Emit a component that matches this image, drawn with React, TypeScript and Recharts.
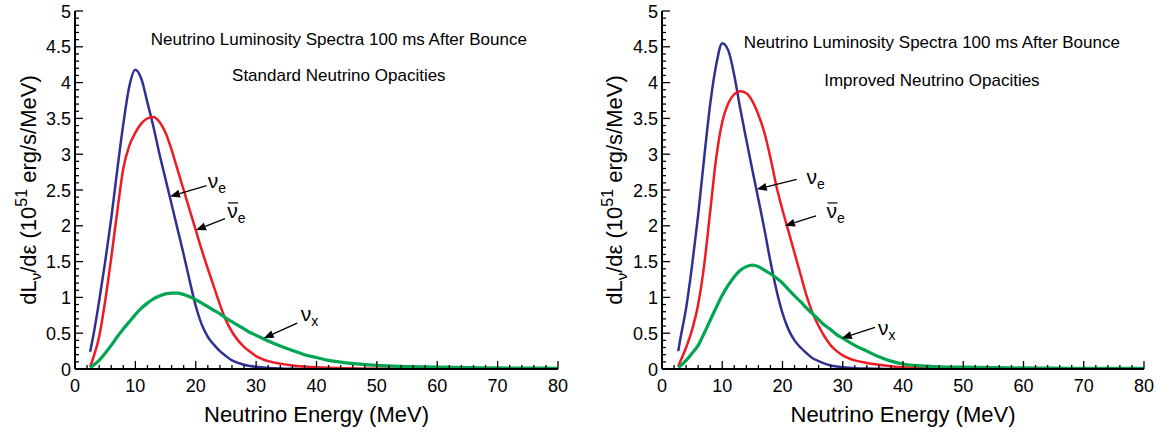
import { LineChart, Line, XAxis, YAxis, ReferenceLine, ReferenceDot, Label } from 'recharts'

const FONT = '"Liberation Sans", Arial, Helvetica, sans-serif'
const BLUE = '#2e3192'
const RED = '#ed1c24'
const GREEN = '#00a651'

// axis ticks
const xMajor = [0, 10, 20, 30, 40, 50, 60, 70, 80]
const xMinorStep = 2
const yMajor = [0, 0.5, 1, 1.5, 2, 2.5, 3, 3.5, 4, 4.5, 5]
const yMinorStep = 0.1

// left panel: standard opacities
const energyStd = [2.5, 3, 4, 5, 6, 7, 8, 9, 10, 11, 12, 13, 14, 15, 16, 17, 18, 19, 20, 21, 22, 23, 24, 25, 26, 27, 28, 29, 30, 32, 34, 36, 38, 40, 42, 45, 50, 55, 60, 65, 70, 75, 80]
const nueStd = [0.24, 0.45, 0.95, 1.5, 2.1, 2.78, 3.42, 3.95, 4.18, 4.05, 3.72, 3.38, 3.0, 2.65, 2.3, 1.95, 1.6, 1.23, 0.88, 0.62, 0.45, 0.34, 0.25, 0.18, 0.12, 0.085, 0.06, 0.042, 0.03, 0.015, 0.007, 0.003, 0.001, 0, 0, 0, 0, 0, 0, 0, 0, 0, 0]
const nuebarStd = [0.03, 0.15, 0.45, 0.95, 1.55, 2.2, 2.8, 3.12, 3.3, 3.43, 3.5, 3.52, 3.45, 3.3, 3.06, 2.78, 2.5, 2.22, 1.94, 1.66, 1.4, 1.15, 0.9, 0.68, 0.52, 0.4, 0.31, 0.24, 0.18, 0.11, 0.075, 0.05, 0.035, 0.024, 0.016, 0.009, 0.004, 0.001, 0, 0, 0, 0, 0]
const nuxStd = [0.02, 0.05, 0.12, 0.22, 0.33, 0.45, 0.56, 0.66, 0.76, 0.85, 0.92, 0.98, 1.02, 1.05, 1.06, 1.06, 1.04, 1.01, 0.97, 0.92, 0.87, 0.82, 0.77, 0.71, 0.66, 0.61, 0.56, 0.51, 0.47, 0.39, 0.32, 0.26, 0.2, 0.16, 0.12, 0.085, 0.05, 0.035, 0.025, 0.02, 0.015, 0.012, 0.01]

// right panel: improved opacities
const energyImp = [2.7, 3, 4, 5, 6, 7, 8, 9, 10, 11, 12, 13, 14, 15, 16, 17, 18, 19, 20, 21, 22, 23, 24, 25, 26, 27, 28, 29, 30, 32, 34, 36, 38, 40, 42, 45, 50, 55, 60, 65, 70, 75, 80]
const nueImp = [0.25, 0.4, 0.85, 1.45, 2.15, 2.95, 3.7, 4.25, 4.55, 4.45, 4.1, 3.63, 3.2, 2.78, 2.37, 1.95, 1.5, 1.1, 0.78, 0.55, 0.4, 0.3, 0.22, 0.15, 0.11, 0.075, 0.05, 0.035, 0.025, 0.012, 0.006, 0.003, 0.001, 0, 0, 0, 0, 0, 0, 0, 0, 0, 0]
const nuebarImp = [0.04, 0.1, 0.3, 0.55, 0.9, 1.45, 2.2, 2.95, 3.45, 3.71, 3.84, 3.88, 3.85, 3.74, 3.55, 3.3, 2.95, 2.55, 2.22, 1.92, 1.62, 1.32, 1.02, 0.78, 0.6, 0.45, 0.33, 0.25, 0.19, 0.12, 0.085, 0.06, 0.04, 0.025, 0.017, 0.01, 0.004, 0.001, 0, 0, 0, 0, 0]
const nuxImp = [0.02, 0.04, 0.12, 0.22, 0.33, 0.5, 0.68, 0.86, 1.03, 1.17, 1.29, 1.38, 1.43, 1.45, 1.43, 1.38, 1.33, 1.27, 1.2, 1.11, 1.02, 0.94, 0.85, 0.77, 0.69, 0.61, 0.55, 0.48, 0.43, 0.33, 0.25, 0.17, 0.11, 0.07, 0.05, 0.035, 0.025, 0.018, 0.015, 0.012, 0.01, 0.009, 0.008]

// annotations, in data units: arrow tail -> tip, then the label
const arrowsStd = [
  { tail: [21.8, 2.56], tip: [15.73, 2.41] },
  { tail: [24.84, 2.1], tip: [20.04, 1.94] },
  { tail: [36.8, 0.64], tip: [31.25, 0.43] },
]
const labelsStd = [
  { x: 22.0, y: 2.53, sub: 'e', bar: false },
  { x: 25.2, y: 2.11, sub: 'e', bar: true },
  { x: 37.4, y: 0.67, sub: 'x', bar: false },
]
const arrowsImp = [
  { tail: [22.36, 2.65], tip: [15.72, 2.51] },
  { tail: [25.56, 2.14], tip: [20.41, 2.0] },
  { tail: [35.35, 0.58], tip: [29.83, 0.43] },
]
const labelsImp = [
  { x: 24.0, y: 2.59, sub: 'e', bar: false },
  { x: 27.3, y: 2.11, sub: 'e', bar: true },
  { x: 35.85, y: 0.47, sub: 'x', bar: false },
]

const xTicks = Array.from({ length: 80 / xMinorStep + 1 }, (_, i) => i * xMinorStep)
const yTicks = Array.from({ length: Math.round(5 / yMinorStep) + 1 }, (_, i) => Math.round(i * yMinorStep * 10) / 10)
const isMajorX = (v: number) => xMajor.includes(v)
const isMajorY = (v: number) => yMajor.some(m => Math.abs(m - v) < 1e-6)

function BottomTick({ x, y, payload }: any) {
  const v = payload.value
  const major = isMajorX(v)
  return (
    <g>
      <line x1={x} x2={x} y1={y} y2={y - (major ? 8 : 4)} stroke="#000" strokeWidth={1.3} />
      {major && (
        <text x={x} y={y + 23} textAnchor="middle" fontSize={18} fontFamily={FONT} fill="#000">{v}</text>
      )}
    </g>
  )
}

function TopTick({ x, y, payload }: any) {
  const major = isMajorX(payload.value)
  return <line x1={x} x2={x} y1={y} y2={y + (major ? 8 : 4)} stroke="#000" strokeWidth={1.3} />
}

function LeftTick({ x, y, payload }: any) {
  const v = payload.value
  const major = isMajorY(v)
  return (
    <g>
      <line x1={x} x2={x + (major ? 8 : 4)} y1={y} y2={y} stroke="#000" strokeWidth={1.3} />
      {major && (
        <text x={x - 4} y={y + 6.5} textAnchor="end" fontSize={18} fontFamily={FONT} fill="#000">{String(v)}</text>
      )}
    </g>
  )
}

function RightTick({ x, y, payload }: any) {
  const major = isMajorY(payload.value)
  return <line x1={x} x2={x - (major ? 8 : 4)} y1={y} y2={y} stroke="#000" strokeWidth={1.3} />
}

function ArrowShape({ x1, y1, x2, y2 }: any) {
  const a = Math.atan2(y2 - y1, x2 - x1)
  const L = 10
  const W = 4
  const bx = x2 - L * Math.cos(a)
  const by = y2 - L * Math.sin(a)
  const nx = -Math.sin(a) * W
  const ny = Math.cos(a) * W
  return (
    <g>
      <line x1={x1} y1={y1} x2={bx} y2={by} stroke="#000" strokeWidth={1.3} />
      <polygon points={`${x2},${y2} ${bx + nx},${by + ny} ${bx - nx},${by - ny}`} fill="#000" />
    </g>
  )
}

function NuLabel({ cx, cy, sub, bar }: any) {
  return (
    <g>
      <text x={cx} y={cy} fontSize={21} fontFamily={FONT} fill="#000">
        ν<tspan dy={5} fontSize={14}>{sub}</tspan>
      </text>
      {bar && <line x1={cx + 1} x2={cx + 11} y1={cy - 15} y2={cy - 15} stroke="#000" strokeWidth={1.2} />}
    </g>
  )
}

function TitleText({ cx, cy, text }: any) {
  return (
    <text x={cx} y={cy} textAnchor="middle" fontSize={17} fontFamily={FONT} fill="#000">{text}</text>
  )
}

function XTitle({ viewBox }: any) {
  const cx = viewBox.x + viewBox.width / 2
  return (
    <text x={cx} y={viewBox.y + 53} textAnchor="middle" fontSize={22} fontFamily={FONT} fill="#000">
      Neutrino Energy (MeV)
    </text>
  )
}

function YTitle({ viewBox, offset }: any) {
  const cx = viewBox.x + offset
  const cy = viewBox.y + viewBox.height / 2
  return (
    <text x={cx} y={cy} transform={`rotate(-90 ${cx} ${cy})`} textAnchor="middle" fontSize={22} fontFamily={FONT} fill="#000">
      dL<tspan dy={5} fontSize={15}>ν</tspan>
      <tspan dy={-5}>/dε (10</tspan>
      <tspan dy={-9} fontSize={16}>51</tspan>
      <tspan dy={9}> erg/s/MeV)</tspan>
    </text>
  )
}

interface PanelProps {
  energy: number[]
  nue: number[]
  nuebar: number[]
  nux: number[]
  arrows: { tail: number[]; tip: number[] }[]
  labels: { x: number; y: number; sub: string; bar: boolean }[]
  subtitle: string
  titleX: number
  titleY: number
  subY: number
  axisW: number
  right: number
  yTitleOffset: number
}

function Panel(p: PanelProps) {
  const rows = p.energy.map((e, i) => ({ e, nue: p.nue[i], nuebar: p.nuebar[i], nux: p.nux[i] }))
  const frame = { stroke: '#000', strokeWidth: 2 }
  return (
    <LineChart width={579} height={433} data={rows} margin={{ top: 11, right: p.right, left: 0, bottom: 0 }}>
      <XAxis xAxisId="b" dataKey="e" type="number" domain={[0, 80]} ticks={xTicks} interval={0}
        height={64} tickSize={0} tickMargin={0} tick={(t: any) => <BottomTick {...t} />} axisLine={frame} allowDataOverflow>
        <Label content={(l: any) => <XTitle {...l} />} />
      </XAxis>
      <XAxis xAxisId="t" orientation="top" dataKey="e" type="number" domain={[0, 80]} ticks={xTicks} interval={0}
        height={0} tickSize={0} tickMargin={0} tick={(t: any) => <TopTick {...t} />} axisLine={frame} allowDataOverflow />
      <YAxis yAxisId="l" type="number" domain={[0, 5]} ticks={yTicks} interval={0}
        width={p.axisW} tickSize={0} tickMargin={0} tick={(t: any) => <LeftTick {...t} />} axisLine={frame} allowDataOverflow>
        <Label content={(l: any) => <YTitle {...l} offset={p.yTitleOffset} />} />
      </YAxis>
      <YAxis yAxisId="r" orientation="right" type="number" domain={[0, 5]} ticks={yTicks} interval={0}
        width={0} tickSize={0} tickMargin={0} tick={(t: any) => <RightTick {...t} />} axisLine={frame} allowDataOverflow />

      <Line xAxisId="b" yAxisId="l" type="monotone" dataKey="nue" stroke={BLUE} strokeWidth={2.5} dot={false} isAnimationActive={false} />
      <Line xAxisId="b" yAxisId="l" type="monotone" dataKey="nuebar" stroke={RED} strokeWidth={2.5} dot={false} isAnimationActive={false} />
      <Line xAxisId="b" yAxisId="l" type="monotone" dataKey="nux" stroke={GREEN} strokeWidth={3.2} dot={false} isAnimationActive={false} />

      <ReferenceDot xAxisId="b" yAxisId="l" x={p.titleX} y={p.titleY} ifOverflow="visible"
        shape={(d: any) => <TitleText {...d} text="Neutrino Luminosity Spectra 100 ms After Bounce" />} />
      <ReferenceDot xAxisId="b" yAxisId="l" x={p.titleX} y={p.subY} ifOverflow="visible"
        shape={(d: any) => <TitleText {...d} text={p.subtitle} />} />

      {p.arrows.map((a, i) => (
        <ReferenceLine key={'a' + i} xAxisId="b" yAxisId="l" ifOverflow="visible"
          segment={[{ x: a.tail[0], y: a.tail[1] }, { x: a.tip[0], y: a.tip[1] }]}
          shape={(s: any) => <ArrowShape {...s} />} />
      ))}
      {p.labels.map((l, i) => (
        <ReferenceDot key={'l' + i} xAxisId="b" yAxisId="l" x={l.x} y={l.y} ifOverflow="visible"
          shape={(d: any) => <NuLabel {...d} sub={l.sub} bar={l.bar} />} />
      ))}
    </LineChart>
  )
}

export default function App() {
  return (
    <div style={{ position: 'absolute', left: 0, top: 0, width: 1158, height: 433, display: 'flex', background: '#fff' }}>
      <Panel energy={energyStd} nue={nueStd} nuebar={nuebarStd} nux={nuxStd}
        arrows={arrowsStd} labels={labelsStd} subtitle="Standard Neutrino Opacities"
        titleX={43.7} titleY={4.52} subY={4.02} axisW={75} right={21} yTitleOffset={36} />
      <Panel energy={energyImp} nue={nueImp} nuebar={nuebarImp} nux={nuxImp}
        arrows={arrowsImp} labels={labelsImp} subtitle="Improved Neutrino Opacities"
        titleX={44.8} titleY={4.48} subY={3.95} axisW={83} right={14} yTitleOffset={43} />
    </div>
  )
}
